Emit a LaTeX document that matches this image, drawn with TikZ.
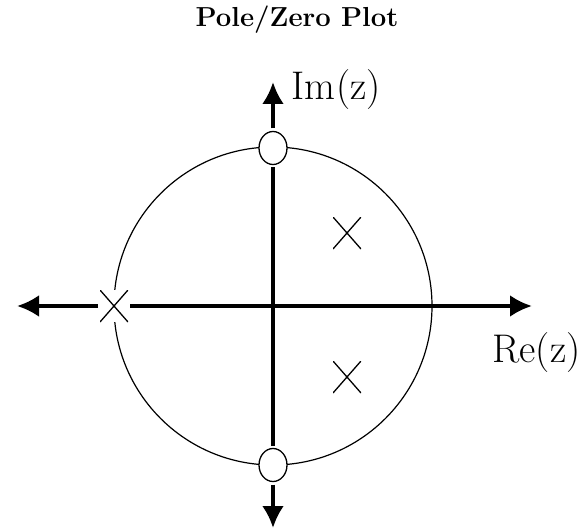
\documentclass[tikz,border=0pt]{standalone}
\usetikzlibrary{shapes.geometric,arrows.meta}
\begin{document}
\begin{tikzpicture}[x=1pt,y=-1pt,
  axisline/.style={line width=4pt,-{Latex[length=22pt,width=22pt]}},
  axisplain/.style={line width=4pt},
  unitcircle/.style={line width=1.2pt},
  zero/.style={ellipse,draw,line width=1.3pt,fill=white,minimum width=28pt,minimum height=33pt,inner sep=0pt,outer sep=3pt},
  pole/.style={rectangle,fill=white,minimum width=28pt,minimum height=32pt,inner sep=0pt,outer sep=2pt,
    path picture={\draw[line width=1.3pt] (path picture bounding box.north west) -- (path picture bounding box.south east)
      (path picture bounding box.north east) -- (path picture bounding box.south west);}},
  lbl/.style={font=\fontsize{40}{44}\selectfont,inner sep=0pt,anchor=base}]
\useasboundingbox (0,0) rectangle (585,529);
\node[font=\fontsize{27.5}{32}\selectfont\bfseries,anchor=base] (title) at (297,27) {Pole/Zero Plot};
\coordinate (O) at (273,306);
\draw[unitcircle] (O) circle[radius=159];
\node[zero] (z1) at (273,148) {};
\node[zero] (z2) at (273,465) {};
\node[pole] (p1) at (347,233) {};
\node[pole] (p2) at (347,377) {};
\node[pole] (p3) at (114,306) {};
\coordinate (L) at (17,306);
\coordinate (R) at (532,306);
\coordinate (T) at (273,82);
\coordinate (B) at (273,528);
\draw[axisline] (p3) -- (L);
\draw[axisline] (p3) -- (R);
\draw[axisline] (z1) -- (T);
\draw[axisplain] (z1) -- (z2);
\draw[axisline] (z2) -- (B);
\node[lbl] (im) at (336,100) {Im\kern1pt(z)};
\node[lbl] (re) at (536.5,362) {Re(z)};
\end{tikzpicture}
\end{document}
